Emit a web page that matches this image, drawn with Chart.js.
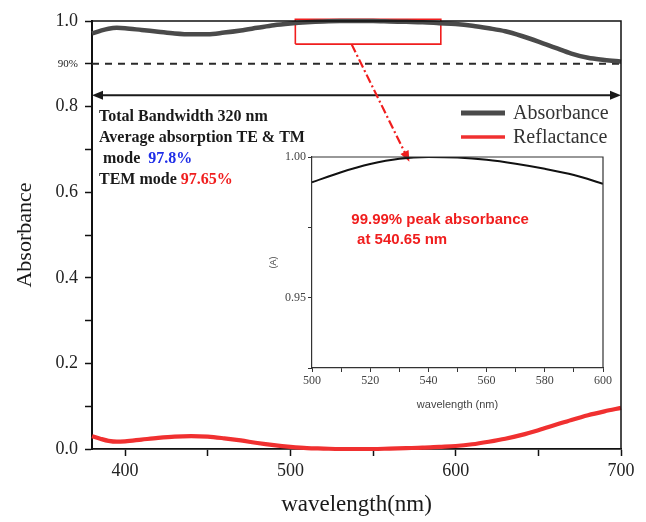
<!DOCTYPE html>
<html>
<head>
<meta charset="utf-8">
<script src="https://cdn.jsdelivr.net/npm/chart.js@4/dist/chart.umd.min.js"></script>
<style>
  body{margin:0;background:#fff;}
  #wrap{position:relative;width:646px;height:522px;}
  #main{position:absolute;left:0;top:0;}
  #inset{position:absolute;left:255px;top:145px;}
</style>
</head>
<body>
<div id="wrap">
  <canvas id="main" width="646" height="522"></canvas>
  <canvas id="inset" width="360" height="275"></canvas>
</div>
<script>
// spectra, 380-700 nm
const wavelength = [380,385,390,395,400,410,420,430,440,450,460,470,480,490,500,510,520,530,540,550,
                    560,570,580,590,600,610,620,630,640,650,660,670,680,690,700];
const absorbance = [0.971,0.977,0.982,0.984,0.983,0.979,0.975,0.971,0.969,0.969,0.973,0.978,0.984,0.990,0.994,0.997,0.999,1.000,1.000,1.000,
                    0.999,0.998,0.997,0.995,0.993,0.989,0.983,0.976,0.965,0.952,0.938,0.924,0.914,0.909,0.905];
const reflectance = [0.030,0.024,0.019,0.017,0.018,0.022,0.026,0.029,0.030,0.029,0.025,0.020,0.014,0.009,0.005,0.002,0.001,0.000,0.000,0.000,
                     0.001,0.002,0.003,0.005,0.007,0.011,0.017,0.024,0.033,0.044,0.056,0.068,0.079,0.088,0.096];

// zoomed peak region
const insetWl  = [500,510,520,530,540,550,560,570,580,590,600];
const insetAbs = [0.9910,0.9946,0.9975,0.9994,1.0000,0.9998,0.9990,0.9976,0.9958,0.9936,0.9905];

// axes
const xTicks = [400,450,500,550,600,650,700];
const yTicks = [0,0.1,0.2,0.3,0.4,0.5,0.6,0.7,0.8,0.9,1.0];
const yTickLabels = ['0.0','','0.2','','0.4','','0.6','','0.8','90%','1.0'];
const insetXTicks = [500,510,520,530,540,550,560,570,580,590,600];
const insetYTicks = [0.925,0.95,0.975,1.0];
const insetYTickLabels = ['','0.95','','1.00'];

// annotations
const thresholdY = 0.9;
const bandArrowY = 0.8265;
const zoomBoxX = [503, 591];
const zoomBoxY = [0.946, 1.004];
const pointerFrom = [537, 0.946];
const pointerTo = [572, 0.671];

const serif = '"Liberation Serif", "Times New Roman", serif';
const sans = '"Liberation Sans", Arial, sans-serif';

const pts = (xs, ys) => xs.map((x, i) => ({x, y: ys[i]}));

function arrowHead(ctx, x, y, ang, len, half){
  ctx.save();
  ctx.translate(x, y);
  ctx.rotate(ang);
  ctx.beginPath();
  ctx.moveTo(0, 0);
  ctx.lineTo(-len, -half);
  ctx.lineTo(-len, half);
  ctx.closePath();
  ctx.fill();
  ctx.restore();
}

const extras = {
  id: 'extras',
  afterDraw(chart){
    const {ctx, chartArea: a, scales: {x, y}} = chart;
    ctx.save();

    // top / right frame
    ctx.strokeStyle = '#111';
    ctx.lineWidth = 1.5;
    ctx.beginPath();
    ctx.moveTo(a.left, a.top);
    ctx.lineTo(a.right, a.top);
    ctx.lineTo(a.right, a.bottom);
    ctx.stroke();

    // bandwidth double arrow
    const by = y.getPixelForValue(bandArrowY);
    const bx1 = x.getPixelForValue(x.min), bx2 = x.getPixelForValue(x.max);
    ctx.strokeStyle = '#1a1a1a';
    ctx.fillStyle = '#1a1a1a';
    ctx.lineWidth = 2;
    ctx.beginPath();
    ctx.moveTo(bx1 + 8, by);
    ctx.lineTo(bx2 - 8, by);
    ctx.stroke();
    arrowHead(ctx, bx1, by, Math.PI, 11, 4.5);
    arrowHead(ctx, bx2, by, 0, 11, 4.5);

    // dash-dot pointer to the inset
    const px1 = x.getPixelForValue(pointerFrom[0]), py1 = y.getPixelForValue(pointerFrom[1]);
    const px2 = x.getPixelForValue(pointerTo[0]), py2 = y.getPixelForValue(pointerTo[1]);
    const ang = Math.atan2(py2 - py1, px2 - px1);
    ctx.strokeStyle = '#f01e1e';
    ctx.fillStyle = '#f01e1e';
    ctx.lineWidth = 2.2;
    ctx.setLineDash([9, 3, 2, 3]);
    ctx.beginPath();
    ctx.moveTo(px1, py1);
    ctx.lineTo(px2 - 9 * Math.cos(ang), py2 - 9 * Math.sin(ang));
    ctx.stroke();
    ctx.setLineDash([]);
    arrowHead(ctx, px2, py2, ang, 11, 4.5);

    // summary text
    const tx = a.left + 7;
    ctx.textBaseline = 'middle';
    ctx.textAlign = 'left';
    ctx.font = 'bold 16px ' + serif;
    ctx.fillStyle = '#1a1a1a';
    ctx.fillText('Total Bandwidth 320 nm', tx, 117);
    ctx.fillText('Average absorption TE & TM', tx, 138);
    ctx.fillText('mode', tx + 4, 159);
    ctx.fillStyle = '#1f2ee8';
    ctx.fillText('97.8%', tx + 4 + ctx.measureText('mode').width + 8, 159);
    ctx.fillStyle = '#1a1a1a';
    ctx.fillText('TEM mode ', tx, 180);
    ctx.fillStyle = '#f01e1e';
    ctx.fillText('97.65%', tx + ctx.measureText('TEM mode ').width, 180);

    // legend
    const lx = a.right - 160;
    let ly = 113;
    ctx.font = '20px ' + serif;
    chart.data.datasets.filter(d => d.inLegend).forEach(d => {
      ctx.strokeStyle = d.borderColor;
      ctx.lineWidth = d.legendWidth;
      ctx.beginPath();
      ctx.moveTo(lx, ly);
      ctx.lineTo(lx + 44, ly);
      ctx.stroke();
      ctx.fillStyle = '#333';
      ctx.fillText(d.label, lx + 52, ly + 1);
      ly += 24;
    });

    ctx.restore();
  }
};

new Chart(document.getElementById('main'), {
  type: 'line',
  data: {
    datasets: [
      { label: 'Absorbance', data: pts(wavelength, absorbance), borderColor: '#4a4a4a', borderWidth: 4.5,
        pointRadius: 0, cubicInterpolationMode: 'monotone', inLegend: true, legendWidth: 5, clip: false },
      { label: 'Reflactance', data: pts(wavelength, reflectance), borderColor: '#f03030', borderWidth: 4.2,
        pointRadius: 0, cubicInterpolationMode: 'monotone', inLegend: true, legendWidth: 3.5, clip: false },
      { label: '90%', data: pts([380, 700], [thresholdY, thresholdY]), borderColor: '#2a2a2a', borderWidth: 2,
        borderDash: [7, 6], pointRadius: 0 },
      { label: 'zoom', data: pts([zoomBoxX[0], zoomBoxX[1], zoomBoxX[1], zoomBoxX[0], zoomBoxX[0]],
                                 [zoomBoxY[0], zoomBoxY[0], zoomBoxY[1], zoomBoxY[1], zoomBoxY[0]]),
        borderColor: '#f01e1e', borderWidth: 1.6, pointRadius: 0, tension: 0, clip: false }
    ]
  },
  options: {
    responsive: false,
    animation: false,
    layout: { padding: { top: 21, right: 25, left: 0, bottom: 0 } },
    plugins: { legend: { display: false }, tooltip: { enabled: false } },
    scales: {
      x: {
        type: 'linear', min: 380, max: 700,
        afterBuildTicks: s => { s.ticks = xTicks.map(v => ({value: v})); },
        afterFit: s => { s.height = 73; },
        ticks: { callback: v => (v % 100 === 0 ? v : ''), color: '#222', font: { family: serif, size: 18 },
                 padding: 4, maxRotation: 0, autoSkip: false },
        grid: { drawOnChartArea: false, tickLength: 7, tickColor: '#111', tickWidth: 1.5 },
        border: { color: '#111', width: 1.8 },
        title: { display: true, text: 'wavelength(nm)', color: '#1a1a1a', font: { family: serif, size: 23 },
                 padding: { top: 0, bottom: 3 } }
      },
      y: {
        min: 0, max: 1.0,
        afterBuildTicks: s => { s.ticks = yTicks.map(v => ({value: v})); },
        afterFit: s => { s.width = 92; },
        ticks: { callback: (v, i) => yTickLabels[i], color: '#222', padding: 7, autoSkip: false,
                 font: c => ({ family: serif, size: (c.tick && c.tick.value === 0.9) ? 11 : 18 }) },
        grid: { drawOnChartArea: false, tickLength: 7, tickColor: '#111', tickWidth: 1.5 },
        border: { color: '#111', width: 2 },
        title: { display: true, text: 'Absorbance', color: '#1a1a1a', font: { family: serif, size: 22 },
                 padding: { top: 12, bottom: 0 } }
      }
    }
  },
  plugins: [extras]
});

const insetExtras = {
  id: 'insetExtras',
  afterDraw(chart){
    const {ctx, chartArea: a, scales: {x, y}} = chart;
    ctx.save();
    ctx.strokeStyle = '#333';
    ctx.lineWidth = 1.2;
    ctx.beginPath();
    ctx.moveTo(a.left, a.top);
    ctx.lineTo(a.right, a.top);
    ctx.lineTo(a.right, a.bottom);
    ctx.stroke();

    // peak note
    ctx.fillStyle = '#f01e1e';
    ctx.font = 'bold 15px ' + sans;
    ctx.textBaseline = 'middle';
    ctx.fillText('99.99% peak absorbance', x.getPixelForValue(513.5), 220 - 145);
    ctx.fillText('at 540.65 nm', x.getPixelForValue(515.5), 240 - 145);
    ctx.restore();
  }
};

new Chart(document.getElementById('inset'), {
  type: 'line',
  data: {
    datasets: [
      { label: '(A)', data: pts(insetWl, insetAbs), borderColor: '#111', borderWidth: 2,
        pointRadius: 0, cubicInterpolationMode: 'monotone' }
    ]
  },
  options: {
    responsive: false,
    animation: false,
    layout: { padding: { top: 12, right: 12, left: 0, bottom: 0 } },
    plugins: { legend: { display: false }, tooltip: { enabled: false } },
    scales: {
      x: {
        type: 'linear', min: 500, max: 600,
        afterBuildTicks: s => { s.ticks = insetXTicks.map(v => ({value: v})); },
        afterFit: s => { s.height = 52; },
        ticks: { callback: v => (v % 20 === 0 ? v : ''), color: '#444', font: { family: serif, size: 12 },
                 padding: 2, maxRotation: 0, autoSkip: false },
        grid: { drawOnChartArea: false, tickLength: 4, tickColor: '#333' },
        border: { color: '#333', width: 1.2 },
        title: { display: true, text: 'wavelength (nm)', color: '#444', font: { family: sans, size: 11 },
                 padding: { top: 0, bottom: 8 } }
      },
      y: {
        min: 0.925, max: 1.0,
        afterBuildTicks: s => { s.ticks = insetYTicks.map(v => ({value: v})); },
        afterFit: s => { s.width = 57; },
        ticks: { callback: (v, i) => insetYTickLabels[i], color: '#444', font: { family: serif, size: 12 },
                 padding: 2, autoSkip: false },
        grid: { drawOnChartArea: false, tickLength: 4, tickColor: '#333' },
        border: { color: '#333', width: 1.2 },
        title: { display: true, text: '(A)', color: '#444', font: { family: sans, size: 9 },
                 padding: { top: 13, bottom: 0 } }
      }
    }
  },
  plugins: [insetExtras]
});
</script>
</body>
</html>
